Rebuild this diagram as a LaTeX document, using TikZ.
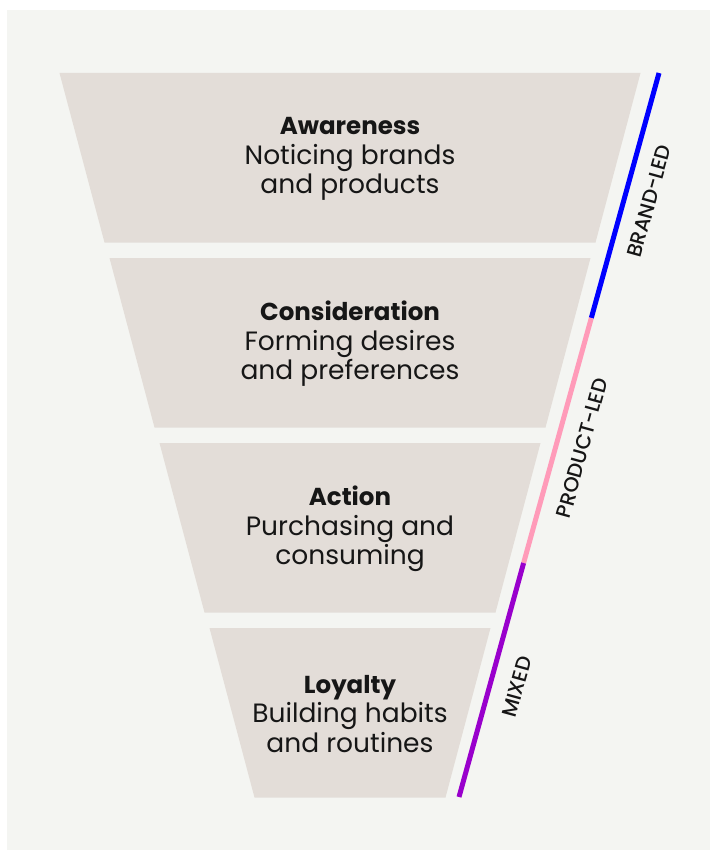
\documentclass[tikz,border=0pt]{standalone}
\usepackage{fontspec}
\setmainfont{Poppins}
\newfontfamily\bandfont{Poppins Medium}
\newcommand{\stagehead}[1]{{\fontsize{24.5}{29.5}\selectfont\bfseries #1}}
\begin{document}
\begin{tikzpicture}[x=1pt,y=-1pt,
  panel/.style={fill=bgpanel,draw=none},
  stage/.style={fill=stagefill,draw=none},
  stagetext/.style={align=center,text=inkdark,font=\fontsize{26.5}{29.5}\selectfont},
  band/.style={line width=5pt,line cap=butt},
  bandlabel/.style={text=inkdark,font=\bandfont\fontsize{20.5}{22}\selectfont,rotate=74.6,inner sep=0pt,anchor=center}]
\definecolor{bgpanel}{HTML}{F4F5F2}
\definecolor{stagefill}{HTML}{E3DDD8}
\definecolor{inkdark}{HTML}{161616}
\definecolor{bandblue}{HTML}{0000FF}
\definecolor{bandpink}{HTML}{FF9BB9}
\definecolor{bandpurple}{HTML}{9900CC}
\useasboundingbox (0,0) rectangle (710,850);
\fill[white] (0,0) rectangle (710,850);
\fill[panel] (7,10) rectangle (710,850);

% funnel stages: top half-width 290-50k, bottom half-width 245-50k
\foreach \k in {0,1,2,3}{
  \pgfmathsetmacro{\yt}{73+185*\k}
  \pgfmathsetmacro{\yb}{\yt+169.5}
  \pgfmathsetmacro{\wt}{290.5-50*\k}
  \pgfmathsetmacro{\wb}{245.5-50*\k}
  \fill[stage] (350-\wt,\yt) -- (350+\wt,\yt) -- (350+\wb,\yb) -- (350-\wb,\yb) -- cycle;
}

\node[stagetext] (aware) at (350,159) {\stagehead{Awareness}\\Noticing brands\\and products};
\node[stagetext] (consid) at (350,344) {\stagehead{Consideration}\\Forming desires\\and preferences};
\node[stagetext] (action) at (350,529) {\stagehead{Action}\\Purchasing and\\consuming};
\node[stagetext] (loyal) at (350,714) {\stagehead{Loyalty}\\Building habits\\and routines};

% side bands along the funnel edge
\coordinate (bTop) at (659,73);
\coordinate (bBlue) at (591.3,318);
\coordinate (bPink) at (523.6,563);
\coordinate (bBot) at (459,797);
\draw[band,bandblue] (bBlue) -- (bTop);
\draw[band,bandpink] (bPink) -- (bBlue);
\draw[band,bandpurple] (bBot) -- (bPink);

\node[bandlabel] (lbrand) at (649,201) {BRAND-LED};
\node[bandlabel] (lprod) at (582,448) {PRODUCT-LED};
\node[bandlabel] (lmix) at (517,687) {MIXED};
\end{tikzpicture}
\end{document}
